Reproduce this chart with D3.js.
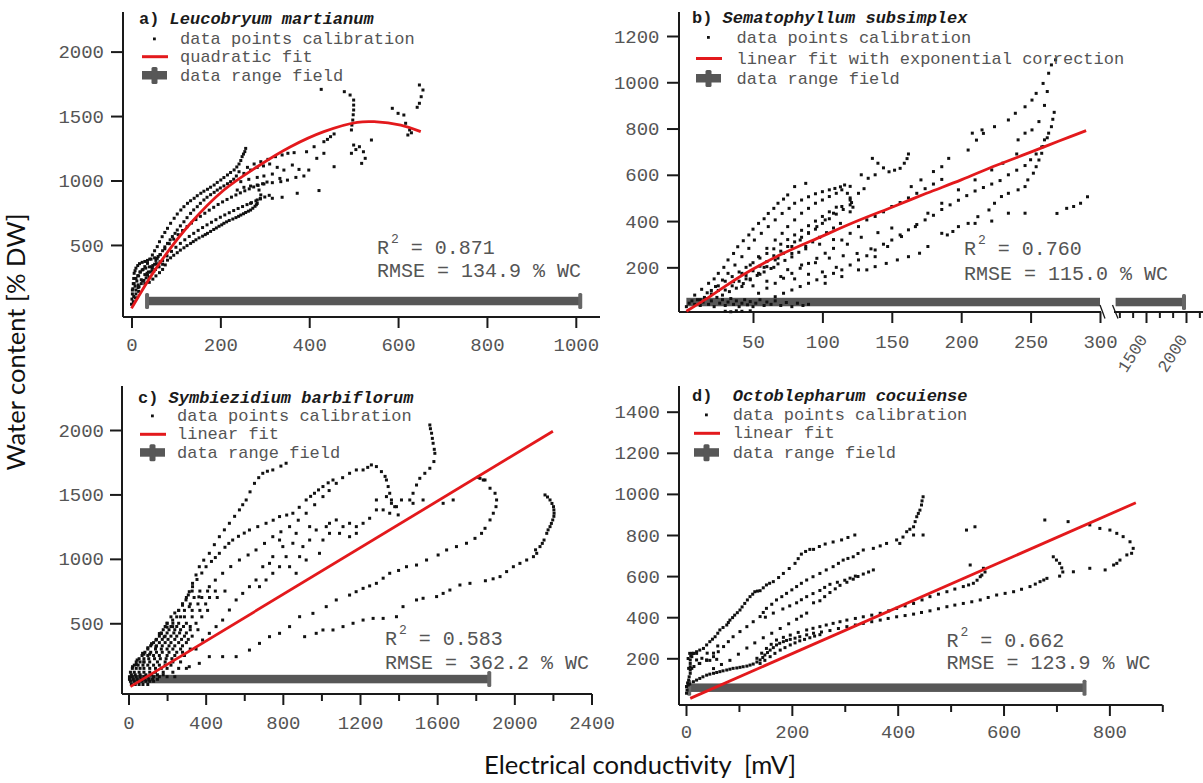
<!DOCTYPE html>
<html>
<head>
<meta charset="UTF-8">
<title>Water content vs electrical conductivity</title>
<script src="https://d3js.org/d3.v7.min.js"></script>
<style>
  body { margin: 0; background: #fff; }
  svg text { font-family: "Liberation Mono", "DejaVu Sans Mono", monospace; }
  .tick text { fill: #555; font-size: 19px; }
  .tick line { stroke: #1a1a1a; stroke-width: 2; }
  .axis-line { stroke: #1a1a1a; stroke-width: 2; }
  .legend { fill: #555; font-size: 17px; }
  .title { fill: #1a1a1a; font-size: 17px; font-weight: bold; white-space: pre; }
  .stats { fill: #555; font-size: 20px; white-space: pre; }
  .dot { fill: #111; }
  .fit { fill: none; stroke: #e3191c; stroke-width: 2.8; }
  .field { fill: #575757; }
  .field-cap { fill: #666; }
  .big-label { font-family: Lato, "Open Sans", sans-serif; font-size: 25px; fill: #111; white-space: pre; }
</style>
</head>
<body>
<svg id="chart" width="1203" height="783"></svg>
<script>
// ---------- panel a: Leucobryum martianum ----------
const aTicksX = [0, 200, 400, 600, 800, 1000];
const aTicksY = [500, 1000, 1500, 2000];
const aFit = [[0,8],[58,332],[133,668],[208,926],[283,1107],[358,1262],[433,1379],[508,1451],[546,1456],[606,1430],[651,1379]];
const aField = [35, 1010], aFieldY = 65;
const aCurve1 = [[2,150],[6,200],[10,240],[14,262],[19,290],[24,306],[30,332],[36,357],[41,390],[47,422],[52,455],[58,487],[63,525],[69,564],[75,597],[81,629],[88,668],[96,707],[103,740],[111,771],[118,797],[126,823],[133,843],[141,862],[148,882],[156,901],[163,917],[171,932],[178,948],[186,965],[193,985],[201,1004],[208,1023],[216,1043],[223,1062],[231,1082],[237,1105],[242,1128],[246,1155],[249,1185],[252,1205],[255,1224],[257,1249]];
const aCurve2 = [[17,176],[22,200],[28,225],[33,245],[36,267],[42,290],[47,320],[52,350],[58,396],[64,425],[70,455],[75,485],[81,512],[87,540],[92,565],[98,590],[103,616],[110,648],[118,680],[125,712],[133,745],[140,772],[148,797],[155,823],[163,849],[170,870],[178,890],[186,908],[193,926],[200,942],[208,958],[216,975],[223,991],[230,1010],[236,1035],[242,1068]];
const aCurve3 = [[15,170],[25,220],[35,280],[45,330],[55,380],[65,425],[75,470],[85,510],[95,545],[105,580],[115,612],[125,642],[135,670],[145,697],[155,722],[165,746],[175,770],[185,792],[195,814],[205,834],[215,853],[225,871],[235,888],[245,904],[255,920],[265,935],[275,950],[285,962],[295,975],[305,988]];
const aCurve4 = [[30,200],[40,250],[50,295],[60,338],[70,378],[80,415],[90,450],[100,482],[110,512],[120,540],[130,566],[140,590],[150,613],[160,635],[170,656],[180,676],[190,696],[200,715],[210,733],[220,750],[230,767],[240,783],[250,798],[260,813],[270,828],[280,842],[290,857],[300,872],[310,885]];
const aCurve5 = [[40,210],[48,235],[55,260],[63,285],[70,310],[76,345],[81,382],[88,400],[95,420],[103,440],[110,460],[118,478],[125,495],[133,512],[139,526],[145,540],[152,555],[160,568],[166,580],[171,590],[178,605],[185,620],[191,632],[197,645],[203,656],[208,668],[214,679],[220,690],[228,701],[235,712],[241,722],[246,732],[252,742],[257,752],[263,762],[268,771],[273,785],[278,800],[281,812],[283,822]];
const aSparse = [[261,1102],[276,1128],[291,1146],[307,1164],[324,1185],[339,1198],[352,1211],[366,1216],[394,1223],[411,1262],[433,1301],[441,1319],[448,1340],[456,1361],
  [253,1055],[268,1081],[283,1102],[297,1113],[311,1128],[328,1102],[343,1081],[362,1120],[377,1086],[399,1081],[417,1172],[433,1211],
  [246,991],[264,1009],[283,1024],[298,1035],[317,1050],[334,1016],[351,1003],[370,1024],[388,1035],
  [238,926],[253,947],[268,957],[283,965],[298,973],[317,983],[336,991],
  [268,823],[283,849],[291,888],[287,926],[290,860],[317,862],[339,870],[373,901],[422,922],[456,1107]];
const aTop = [[427,1707],[479,1689],[492,1663],[500,1624],[500,1585],[500,1547],[499,1510],[498,1469],[496,1430],[495,1392],
  [587,1560],[600,1521],[613,1508],[617,1444],[626,1392],[622,1353],[630,1370],
  [648,1741],[656,1702],[652,1650],[648,1599],[643,1568],
  [500,1275],[513,1262],[522,1223],[526,1172],[518,1133],[495,1211],[540,1314],[505,1240]];
const aBlob = [[0,40],[1,80],[2,120],[3,160],[4,200],[5,240],[6,280],[8,300],[10,320],[14,340],[18,355],[24,365],[30,372],[36,380],[44,390],[52,400],[60,410],
  [8,180],[12,220],[16,260],[20,290],[26,310],[32,320],[40,330],[48,340],[56,355],[64,370],
  [10,150],[15,190],[22,230],[30,270],[38,290],[46,300],[54,310],[62,330],[70,350],[5,100],[10,120],[16,140],[4,60],[9,90]];

// ---------- panel b: Sematophyllum subsimplex ----------
const bTicksX = [50, 100, 150, 200, 250, 300];
const bTicksX2 = [1500, 2000];
const bMinorX2 = [1167, 1333, 1667, 1833, 2167];
const bTicksY = [200, 400, 600, 800, 1000, 1200];
const bFit = [[2,10],[20,78],[42,165],[70,255],[100,335],[125,400],[151,462],[175,520],[200,578],[225,640],[251,700],[270,745],[290,791]];
const bField = [2, 300], bField2 = [1120, 1975], bFieldY = 50;
const bSteep1 = [[8,80],[13,105],[18,131],[22,150],[25,174],[29,200],[32,232],[36,260],[39,289],[43,315],[47,340],[50,365],[54,390],[58,410],[61,433],[65,455],[68,477],[72,495],[75,513],[80,549],[88,563]];
const bSteep2 = [[12,60],[17,90],[23,117],[28,145],[32,174],[37,210],[42,246],[47,282],[51,318],[56,347],[61,376],[66,405],[71,433],[76,455],[80,477],[85,491],[90,505],[95,518],[100,527],[105,535],[109,541],[113,548],[116,556],[120,550]];
const bSteep3 = [[30,102],[36,138],[42,174],[48,210],[54,246],[60,282],[66,318],[71,347],[75,376],[80,405],[85,434],[90,455],[95,477],[100,491],[105,506],[110,520],[114,535],[118,520],[120,500],[121,480],[122,460],[120,440]];
const bSteep4 = [[42,117],[48,146],[54,174],[60,203],[66,232],[72,261],[78,290],[84,318],[90,347],[96,376],[102,405],[108,434],[114,463],[120,491],[126,520],[130,540]];
const bMid1 = [[54,88],[60,110],[66,131],[72,153],[78,174],[84,196],[90,217],[96,239],[102,261],[108,282],[114,318],[120,347],[126,376],[132,405],[138,420],[144,440],[150,463],[156,480],[162,500],[168,520],[174,540],[180,560],[186,580]];
const bMid2 = [[66,73],[72,88],[78,102],[84,117],[90,131],[96,146],[102,160],[108,174],[114,189],[120,210],[126,232],[132,250],[138,275],[144,300],[150,318],[156,340],[162,362],[168,385],[174,405],[180,425],[186,450],[192,470],[198,490],[204,510],[210,530],[216,545],[222,560],[228,575],[234,600],[240,620],[246,640],[250,665],[254,690],[258,720],[262,760]];
const bMid3 = [[138,246],[147,290],[157,333],[167,376],[176,434],[186,477],[198,535],[210,578],[222,621],[230,650],[240,690]];
const bRight = [[205,390],[212,419],[220,448],[224,477],[229,506],[234,520],[241,535],[246,549],[248,578],[252,607],[254,635],[256,664],[258,693],[259,722],[260,751],[263,780],[265,808],[266,840],[267,870]];
const bUpper = [[164,549],[171,578],[180,614],[186,635],[191,671],[205,707],[211,750],[216,779],[224,808],[234,837],[239,866],[246,894],[251,923],[254,952],[259,995],[263,1039],[265,1075],[268,1097],
  [208,780],[215,794],[241,751],[246,780],[251,794],[256,830],[260,900],[262,960]];
const bLow = [[102,131],[114,160],[126,189],[132,189],[138,203],[146,217],[154,232],[162,246],[170,261],[176,290],[186,347],[190,340],[194,355],[198,376],[210,390],[222,400],[234,434],[246,434],
  [269,433],[276,455],[281,463],[286,477],[291,505]];
const bVee = [[128,600],[133,585],[136,671],[138,600],[140,650],[144,630],[148,613],[152,620],[156,628],[159,650],[161,670],[162,690]];
const bBottom = [[2,30],[4,45],[6,55],[8,40],[10,60],[12,35],[14,50],[16,65],[18,40],[20,55],[22,30],[24,70],[26,45],[28,60],[30,35],[32,50],[34,65],[36,40],[38,55],[40,30],[42,45],[44,60],[46,38],[48,52],[50,30],[52,45],[55,60],[58,35],[60,50],[63,40],[66,55],[70,35],[74,48],[78,30],[82,45],[86,35],[90,40],[30,10],[34,8],[38,12],[42,10],[48,12]];
const bScatter = [[45,150],[55,170],[65,200],[75,190],[85,210],[95,220],[105,240],[115,250],[60,140],[70,160],[80,150],[90,170],[100,180],[110,200],[125,260],[135,280],[50,120],[58,200],[68,240],[78,260],[88,280],[98,300],[108,320],[118,300],[128,330],[140,350],[150,370]];
const bFill = [[20,100],[25,120],[30,140],[35,160],[40,180],[45,200],[50,220],[55,240],[60,260],[65,280],[70,300],[75,320],[80,340],[85,360],[90,380],[95,400],[100,420],[105,440],[110,460],
  [28,80],[33,95],[38,110],[43,130],[48,150],[53,165],[58,180],[63,195],[68,215],[73,230],[78,245],[83,265],[88,290],[93,310],[98,330],[103,350],[108,370],[113,390],
  [15,70],[20,85],[25,100],[35,120],[40,140],[45,165],[50,185],[55,205],[60,225],[65,250],[70,270],[75,290],[80,310],[85,330],[90,350],[95,365],[100,390],[105,410],[110,430],[115,450],[120,470]];

// ---------- panel c: Symbiezidium barbiflorum ----------
const cTicksX = [0, 400, 800, 1200, 1600, 2000, 2400];
const cMinorX = [200, 600, 1000, 1400, 1800, 2200];
const cTicksY = [500, 1000, 1500, 2000];
const cFit = [[10,8],[2200,1990]];
const cField = [5, 1870], cFieldY = 67;
const cC1 = [[21,163],[45,215],[73,267],[100,310],[120,340],[142,370],[170,420],[200,470],[229,525],[260,600],[280,640],[298,681],[315,745],[332,810],[350,875],[367,939],[390,990],[419,1043],[445,1110],[471,1172],[497,1225],[523,1276],[550,1330],[575,1380],[592,1420],[610,1457],[630,1520],[653,1586],[675,1630],[696,1664],[720,1680],[748,1690],[790,1720],[817,1742]];
const cC2 = [[40,180],[80,260],[120,340],[160,420],[200,500],[240,580],[280,650],[310,720],[332,784],[355,840],[380,890],[402,939],[430,980],[450,1010],[471,1043],[500,1090],[520,1120],[540,1146],[570,1175],[600,1200],[627,1224],[670,1250],[713,1276],[750,1300],[783,1328],[820,1340],[852,1354],[885,1400],[921,1457],[944,1485],[964,1509],[985,1535],[1008,1561],[1035,1590],[1060,1612]];
const cC3 = [[80,200],[110,260],[142,318],[185,395],[229,474],[270,550],[315,629],[365,705],[419,784],[450,835],[488,888],[530,940],[575,991],[620,1030],[661,1069],[705,1120],[748,1172],[790,1210],[835,1250],[880,1300],[921,1354],[965,1420],[1008,1483],[1040,1530],[1077,1586],[1110,1630],[1146,1664],[1181,1690],[1216,1690],[1240,1710],[1259,1729],[1285,1716],[1311,1677],[1330,1640],[1337,1612],[1346,1561],[1354,1509],[1363,1457],[1380,1405],[1398,1341]];
const cMid = [[1077,1302],[1112,1250],[1146,1276],[1181,1250],[1216,1276],[1250,1315],[1285,1380],[1320,1380],[1354,1354],[1389,1405],[1415,1457],[1094,1198],[1146,1172],[1181,1198],[1042,1198],[1008,1146],[990,1043],[939,1146],[904,1095],[887,1017],[869,1198],[852,1121],[783,1146],[800,1095],[817,1017],[835,939],[783,939],[731,965],[696,939],[661,836],[627,784],[592,732],[558,681],[523,603],[488,525],[454,474],[419,422],[384,370],[1285,1457],[1337,1483],[1363,1431],[1042,1276],[1025,1250],[921,991],[973,1224],[939,1250],[748,888],[713,836],[679,784],[748,1017],[869,888]];
const cC4 = [[1458,1457],[1475,1509],[1493,1573],[1510,1625],[1536,1664],[1562,1703],[1583,1755],[1588,1819],[1585,1850],[1579,1897],[1575,1935],[1571,1975],[1565,2010],[1562,2039],[1475,1431],[1527,1457],[1631,1431],[1683,1457],[1822,1625],[1848,1612]];
const cC5 = [[315,163],[367,189],[419,241],[488,241],[558,241],[627,292],[679,344],[731,396],[783,422],[835,474],[887,551],[956,577],[1025,629],[1077,681],[1146,719],[1180,745],[1216,771],[1250,790],[1285,810],[1320,850],[1354,888],[1400,910],[1441,939],[1493,952],[1545,991],[1605,1030],[1649,1069],[1700,1095],[1752,1121],[1796,1159],[1830,1198],[1848,1237],[1874,1302],[1891,1354],[1905,1405],[1908,1457],[1900,1509],[1874,1548],[1839,1612],[1813,1633]];
const cC6 = [[913,396],[973,422],[1008,448],[1060,448],[1112,474],[1164,500],[1216,525],[1268,538],[1320,538],[1389,551],[1423,629],[1493,681],[1527,694],[1597,707],[1631,732],[1666,758],[1718,797],[1770,810],[1850,830],[1890,845],[1926,862],[1960,901],[1995,939],[2029,965],[2064,991],[2099,1017],[2110,1070],[2116,1043],[2133,1095],[2145,1120],[2154,1146],[2168,1198],[2175,1225],[2185,1250],[2192,1275],[2199,1302],[2205,1330],[2206,1354],[2205,1380],[2203,1405],[2195,1430],[2185,1457],[2172,1480],[2159,1496]];
const cDense = [[10,50],[30,50],[50,50],[70,50],[90,50],[110,50],[130,50],
  [5,85],[20,85],[40,85],[60,85],[80,85],[100,85],[130,85],[160,85],[200,85],[240,85],
  [10,120],[30,120],[55,120],[80,120],[110,120],[140,120],[180,120],[230,120],
  [20,150],[40,150],[60,150],[80,150],[110,150],[140,150],[170,150],[200,150],[260,150],[300,150],
  [40,200],[60,200],[80,200],[110,200],[150,200],[190,200],[230,200],[270,200],
  [70,250],[100,250],[130,250],[160,250],[200,250],[240,250],[290,250],
  [100,300],[140,300],[170,300],[200,300],[230,300],[270,300],[320,300],[350,300],
  [130,350],[160,350],[190,350],[220,350],[260,350],[300,350],
  [160,400],[190,400],[220,400],[250,400],[290,400],[330,400],
  [180,450],[210,450],[240,450],[270,450],[320,450],[360,450],
  [200,500],[230,500],[260,500],[300,500],[350,500],
  [220,550],[250,550],[290,550],[330,550],[380,550],
  [260,600],[290,600],[330,600],[370,600],[410,600],
  [280,650],[320,650],[360,650],[400,650],
  [300,700],[340,700],[380,700],[420,700],[460,700],
  [330,750],[370,750],[410,750],[450,750],[500,750]];
const cDense2 = [[15,25],[35,25],[55,25],[75,25],[100,25],[5,65],[25,65],[45,65],[65,65],[85,65],[105,65],[125,65],[150,65],
  [15,100],[35,100],[60,100],[90,100],[120,100],[150,100],[180,100],
  [30,175],[50,175],[75,175],[100,175],[130,175],[160,175],[190,175],[220,175],
  [55,225],[80,225],[105,225],[135,225],[165,225],[195,225],[225,225],
  [85,275],[115,275],[145,275],[175,275],[210,275],[250,275],[280,275],
  [115,325],[145,325],[175,325],[210,325],[240,325],[280,325],
  [145,375],[175,375],[205,375],[240,375],[275,375],[310,375],
  [170,425],[200,425],[235,425],[265,425],[300,425],
  [190,475],[220,475],[250,475],[285,475],[320,475]];

// ---------- panel d: Octoblepharum cocuiense ----------
const dTicksX = [0, 200, 400, 600, 800];
const dMinorX = [100, 300, 500, 700, 900];
const dTicksY = [200, 400, 600, 800, 1000, 1200, 1400];
const dFit = [[8,5],[850,957]];
const dField = [6, 753], dFieldY = 57;
const dUpper = [[4,199],[9,212],[14,224],[20,232],[26,240],[33,248],[39,265],[45,281],[50,293],[55,305],[60,322],[64,338],[70,350],[77,362],[80,374],[83,386],[88,398],[92,410],[97,422],[102,435],[106,450],[111,467],[116,484],[121,500],[126,512],[130,524],[135,527],[140,529],[146,543],[152,557],[158,565],[165,573],[175,593],[184,613],[195,637],[206,662],[212,685],[218,707],[226,720],[234,730],[241,730],[252,744],[263,756],[278,766],[294,776],[306,788],[319,800]];
const dUpper2 = [[26,175],[39,190],[52,208],[61,232],[71,257],[80,281],[89,305],[102,330],[115,354],[127,378],[140,403],[146,423],[152,443],[162,463],[171,484],[181,500],[190,516],[200,533],[209,549],[218,565],[228,581],[240,597],[253,613],[265,630],[278,646],[288,662],[297,678],[306,686],[316,694],[325,710],[335,727],[354,735],[367,747],[379,759],[398,776],[404,759],[410,790],[417,816],[423,828],[430,840],[433,865],[436,889],[439,905],[442,921],[445,946],[446,966],[448,986],[448,800],[430,800]];
const dMid = [[52,150],[67,170],[83,190],[99,220],[115,250],[130,275],[146,300],[162,322],[178,345],[194,368],[209,390],[218,405],[228,420],[241,470],[253,480],[262,500],[272,520],[282,538],[291,555],[304,570],[316,585],[325,598],[335,610],[345,620],[354,630]];
const dMid2 = [[150,400],[165,420],[183,440],[196,455],[209,470],[218,485],[228,500],[240,515],[253,530],[262,545],[272,560],[286,570],[300,580],[310,590],[320,600]];
const dBand1 = [[1,62],[7,75],[14,86],[20,94],[26,102],[32,110],[39,118],[45,123],[52,127],[58,131],[64,135],[70,139],[77,143],[83,147],[89,151],[96,153],[102,156],[108,159],[115,162],[121,167],[127,172],[134,182],[140,192],[145,204],[149,216],[154,228],[159,240],[165,252],[171,265],[177,273],[184,281],[190,287],[197,292],[206,298],[215,305],[228,314],[241,322],[256,328],[272,335],[288,345],[304,354],[320,362],[335,370],[351,378],[367,386],[382,394],[398,402],[414,408],[430,415],[445,423],[461,431],[477,441],[493,451],[508,459],[524,467],[540,475],[556,484],[571,496],[587,508],[603,516],[619,524],[634,536],[650,549],[660,561],[669,573],[676,581],[682,589]];
const dBand2 = [[134,200],[143,225],[152,248],[161,268],[171,289],[184,302],[197,313],[212,326],[228,338],[240,346],[253,354],[265,362],[278,370],[291,378],[304,386],[320,394],[335,402],[351,410],[367,419],[383,431],[398,443],[414,455],[430,467],[446,484],[461,500],[477,512],[493,524],[508,537],[524,549],[534,557],[543,565],[550,580],[556,597]];
const dBand3 = [[140,175],[149,190],[159,208],[168,224],[178,240],[187,252],[197,265],[206,275],[215,285],[224,292],[234,300],[243,308],[253,315]];
const dLeft = [[1,30],[1,62],[3,80],[5,94],[6,110],[8,127],[8,143],[8,159],[8,175],[8,192],[11,208],[11,224],[20,192],[30,200],[39,192],[15,160],[25,175],[40,225],[52,225],[60,260],[2,45],[4,70],[7,224],[14,224],[20,224],[5,151],[11,151],[45,190],[58,195]];
const dRight = [[678,873],[722,865],[763,849],[782,832],[801,824],[814,808],[826,792],[839,767],[845,735],[842,711],[833,703],[820,678],[814,662],[808,654],[694,694],[700,678],[706,662],[710,640],[712,620],[706,600],[732,621],[763,638],[792,630],[537,654],[530,824],[546,840],[562,638],[559,605],[565,620]];

const svg = d3.select("#chart");
const fmt = d3.format("d");

const panels = [
  { tag: "a)", species: "Leucobryum martianum", fitName: "quadratic fit",
    x: d3.scaleLinear().domain([0, 1000]).range([131.5, 575.8]),
    y: d3.scaleLinear().domain([0, 2000]).range([309.4, 51.6]),
    axisX: 123, axisY: 317, yTop: 12, xEnd: 600, xPad: 9.5, yPad: 7,
    xTicks: aTicksX, xMinor: [], yTicks: aTicksY,
    points: [].concat(aCurve1, aCurve2, aCurve3, aCurve4, aCurve5, aSparse, aTop, aBlob),
    fit: aFit, field: aField, fieldY: aFieldY, r2: "0.871", rmse: "134.9",
    titleX: 139, titleY: 24.3, legX: 142, legTextX: 180, legY: [44, 61.7, 80.5],
    statX: 377, statY: [253.7, 277] },
  { tag: "b)", species: "Sematophyllum subsimplex", fitName: "linear fit with exponential correction",
    x: d3.scaleLinear().domain([0, 300]).range([683.6, 1100]),
    y: d3.scaleLinear().domain([0, 1200]).range([313.6, 36]),
    axisX: 679, axisY: 312, yTop: 12, xEnd: 1101, xPad: 11.5, yPad: 7.5,
    xTicks: bTicksX, xMinor: [], yTicks: bTicksY,
    points: [].concat(bSteep1, bSteep2, bSteep3, bSteep4, bMid1, bMid2, bMid3, bRight, bUpper, bLow, bVee, bBottom, bScatter, bFill),
    fit: bFit, field: bField, fieldY: bFieldY, r2: "0.760", rmse: "115.0",
    titleX: 692, titleY: 22.7, legX: 696, legTextX: 736.5, legY: [42.5, 63.5, 83.5],
    statX: 964, statY: [255.3, 280.3], noLeftCap: true, noRightCap: true },
  { tag: "c)", species: "Symbiezidium barbiflorum", fitName: "linear fit",
    x: d3.scaleLinear().domain([0, 2400]).range([128.5, 591.5]),
    y: d3.scaleLinear().domain([0, 2000]).range([687.7, 430]),
    axisX: 122, axisY: 694, yTop: 386, xEnd: 592, xPad: 10.5, yPad: 6,
    xTicks: cTicksX, xMinor: cMinorX, yTicks: cTicksY,
    points: [].concat(cC1, cC2, cC3, cMid, cC4, cC5, cC6, cDense, cDense2),
    fit: cFit, field: cField, fieldY: cFieldY, r2: "0.583", rmse: "362.2",
    titleX: 138, titleY: 403, legX: 140, legTextX: 177, legY: [421, 439.3, 457.7],
    statX: 385, statY: [645.3, 668.7], noLeftCap: true },
  { tag: "d) ", species: "Octoblepharum cocuiense", fitName: "linear fit",
    x: d3.scaleLinear().domain([0, 900]).range([686, 1162.3]),
    y: d3.scaleLinear().domain([0, 1400]).range([699.4, 411.7]),
    axisX: 679, axisY: 705, yTop: 386, xEnd: 1162.5, xPad: 9, yPad: 7,
    xTicks: dTicksX, xMinor: dMinorX, yTicks: dTicksY,
    points: [].concat(dUpper, dUpper2, dMid, dMid2, dBand1, dBand2, dBand3, dLeft, dRight),
    fit: dFit, field: dField, fieldY: dFieldY, r2: "0.662", rmse: "123.9",
    titleX: 692, titleY: 401, legX: 694, legTextX: 732.7, legY: [420, 438.3, 457.7],
    statX: 946.5, statY: [647, 668.7] }
];

function drawBar(g, sx, sy, range, yv, capLeft, capRight) {
  const yc = sy(yv);
  g.append("rect").attr("class", "field")
    .attr("x", sx(range[0])).attr("y", yc - 4.25)
    .attr("width", sx(range[1]) - sx(range[0])).attr("height", 8.5);
  if (capLeft) g.append("rect").attr("class", "field-cap")
    .attr("x", sx(range[0]) - 2).attr("y", yc - 8).attr("width", 4).attr("height", 16).attr("rx", 1.5);
  if (capRight) g.append("rect").attr("class", "field-cap")
    .attr("x", sx(range[1]) - 2).attr("y", yc - 8).attr("width", 4).attr("height", 16).attr("rx", 1.5);
}

function drawPanel(p) {
  const g = svg.append("g");

  // axes lines
  g.append("line").attr("class", "axis-line")
    .attr("x1", p.axisX).attr("x2", p.axisX).attr("y1", p.yTop).attr("y2", p.axisY);
  g.append("line").attr("class", "axis-line")
    .attr("x1", p.axisX).attr("x2", p.xEnd).attr("y1", p.axisY).attr("y2", p.axisY);

  g.append("g").attr("transform", `translate(${p.axisX},0)`)
    .call(d3.axisLeft(p.y).tickValues(p.yTicks).tickFormat(fmt).tickSize(12).tickPadding(p.yPad).tickSizeOuter(0))
    .call(a => a.select(".domain").remove());

  g.append("g").attr("transform", `translate(0,${p.axisY})`)
    .call(d3.axisBottom(p.x).tickValues(p.xTicks).tickFormat(fmt).tickSize(11).tickPadding(p.xPad).tickSizeOuter(0))
    .call(a => a.select(".domain").remove());

  if (p.xMinor.length) {
    g.append("g").attr("transform", `translate(0,${p.axisY})`)
      .call(d3.axisBottom(p.x).tickValues(p.xMinor).tickSize(7).tickFormat("").tickSizeOuter(0))
      .call(a => a.select(".domain").remove());
  }

  // data range in the field
  drawBar(g, p.x, p.y, p.field, p.fieldY, !p.noLeftCap, !p.noRightCap);

  // calibration points
  g.selectAll("rect.dot").data(p.points).join("rect")
    .attr("class", "dot")
    .attr("x", d => p.x(d[0]) - 1.5).attr("y", d => p.y(d[1]) - 1.5)
    .attr("width", 3).attr("height", 3);

  // fit
  g.append("path").attr("class", "fit")
    .attr("d", d3.line().x(d => p.x(d[0])).y(d => p.y(d[1])).curve(d3.curveCatmullRom)(p.fit));

  // title
  const t = g.append("text").attr("class", "title").attr("x", p.titleX).attr("y", p.titleY);
  t.append("tspan").text(p.tag + " ");
  t.append("tspan").attr("font-style", "italic").text(p.species);

  // legend
  const lx = p.legX;
  g.append("rect").attr("class", "dot").attr("x", lx + 11).attr("y", p.legY[0] - 6.5).attr("width", 2.8).attr("height", 2.8);
  g.append("line").attr("x1", lx).attr("x2", lx + 26).attr("y1", p.legY[1] - 5).attr("y2", p.legY[1] - 5)
    .attr("stroke", "#e3191c").attr("stroke-width", 3);
  g.append("rect").attr("class", "field").attr("x", lx).attr("y", p.legY[2] - 9.5).attr("width", 25).attr("height", 8.5);
  g.append("rect").attr("class", "field").attr("x", lx + 9.5).attr("y", p.legY[2] - 13.5).attr("width", 6).attr("height", 17).attr("rx", 1.5);
  const names = ["data points calibration", p.fitName, "data range field"];
  names.forEach((n, i) => {
    g.append("text").attr("class", "legend").attr("x", p.legTextX).attr("y", p.legY[i]).text(n);
  });

  // statistics
  const s = g.append("text").attr("class", "stats").attr("x", p.statX).attr("y", p.statY[0]);
  s.append("tspan").text("R");
  s.append("tspan").attr("font-size", 13).attr("dy", -11).attr("dx", 2).text("2");
  s.append("tspan").attr("dy", 11).text(" = " + p.r2);
  g.append("text").attr("class", "stats").attr("x", p.statX).attr("y", p.statY[1])
    .text("RMSE = " + p.rmse + " % WC");
  return g;
}

panels.forEach(drawPanel);

// panel b: broken x axis, second segment
const pb = panels[1];
const bx2 = d3.scaleLinear().domain([1500, 2000]).range([1146, 1186]);
const gb = svg.append("g");
gb.append("line").attr("class", "axis-line").attr("x1", 1114).attr("x2", 1203).attr("y1", pb.axisY).attr("y2", pb.axisY);
gb.append("g").attr("transform", `translate(0,${pb.axisY})`)
  .call(d3.axisBottom(bx2).tickValues(bTicksX2).tickSize(11).tickFormat("").tickSizeOuter(0))
  .call(a => a.select(".domain").remove());
gb.append("g").attr("transform", `translate(0,${pb.axisY})`)
  .call(d3.axisBottom(bx2).tickValues(bMinorX2).tickSize(6).tickFormat("").tickSizeOuter(0))
  .call(a => a.select(".domain").remove());
gb.selectAll("text.rot").data(bTicksX2).join("text")
  .attr("class", "rot")
  .attr("transform", d => `translate(${bx2(d) + 2},339) rotate(-58)`)
  .attr("text-anchor", "end").attr("fill", "#555").attr("font-size", 17)
  .text(d => fmt(d));
drawBar(gb, bx2, pb.y, bField2, bFieldY, false, true);
// break marks
[[1100, 1105], [1112.5, 1118]].forEach(m => {
  gb.append("line").attr("x1", m[0]).attr("y1", 305).attr("x2", m[1]).attr("y2", 318.5)
    .attr("stroke", "#1a1a1a").attr("stroke-width", 1.3);
});

// shared axis titles
svg.append("text").attr("class", "big-label")
  .attr("transform", "translate(25,342) rotate(-90)")
  .attr("text-anchor", "middle")
  .attr("textLength", 257).attr("lengthAdjust", "spacingAndGlyphs")
  .text("Water content [% DW]");
svg.append("text").attr("class", "big-label")
  .attr("x", 640).attr("y", 774)
  .attr("text-anchor", "middle")
  .attr("textLength", 312).attr("lengthAdjust", "spacingAndGlyphs")
  .text("Electrical conductivity  [mV]");
</script>
</body>
</html>
